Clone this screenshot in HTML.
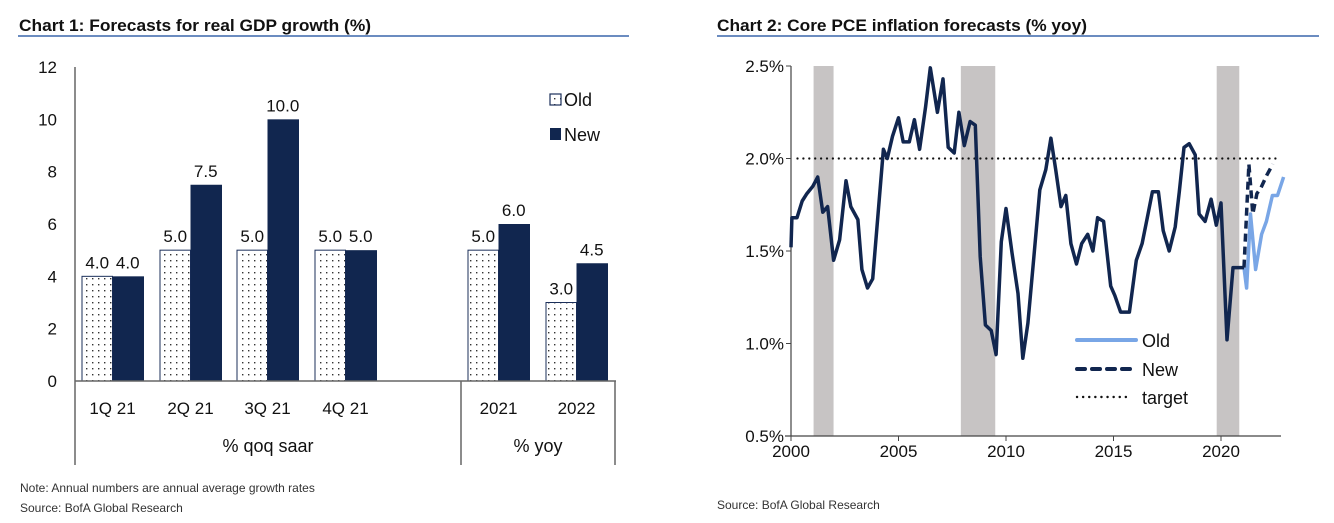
<!DOCTYPE html>
<html><head><meta charset="utf-8"><style>
html,body{margin:0;padding:0;background:#fff;}
svg{display:block;font-family:"Liberation Sans Narrow","Liberation Sans",sans-serif;}
</style></head><body>
<svg id="c" width="1334" height="523" viewBox="0 0 1334 523">
<defs>
<pattern id="dots" width="6" height="6" patternUnits="userSpaceOnUse">
<rect width="6" height="6" fill="#fff"/><rect x="2" y="2" width="1.4" height="1.4" fill="#333"/>
</pattern>
</defs>
<g id="c1">
<text x="19" y="31" font-size="17" font-weight="bold" fill="#111" textLength="352" lengthAdjust="spacingAndGlyphs">Chart 1: Forecasts for real GDP growth (%)</text>
<rect x="18" y="35" width="611" height="2" fill="#6b8cc0"/>
<text x="20" y="492" font-size="12" fill="#333">Note: Annual numbers are annual average growth rates</text>
<text x="20" y="512" font-size="12" fill="#333">Source: BofA Global Research</text>
</g>
<g id="c2">
<text x="717" y="31" font-size="17" font-weight="bold" fill="#111" textLength="370" lengthAdjust="spacingAndGlyphs">Chart 2: Core PCE inflation forecasts (% yoy)</text>
<rect x="717" y="35" width="602" height="2" fill="#6b8cc0"/>
<text x="717" y="509" font-size="12" fill="#333">Source: BofA Global Research</text>
</g>
</svg>
<script>
// ---- Chart 1 data ----
const gdpCategories = ["1Q 21","2Q 21","3Q 21","4Q 21","2021","2022"];
const gdpOld = [4.0,5.0,5.0,5.0,5.0,3.0];
const gdpNew = [4.0,7.5,10.0,5.0,6.0,4.5];
const gdpTicks = [0,2,4,6,8,10,12];
const gdpGroups = ["% qoq saar","% yoy"];
// ---- Chart 2 data ----
const pceYears = [2000.0,2000.04,2000.28,2000.52,2000.74,2001.02,2001.24,2001.48,2001.70,2001.98,2002.26,2002.56,2002.78,2003.11,2003.30,2003.56,2003.80,2004.30,2004.48,2004.72,2005.0,2005.22,2005.5,2005.74,2005.98,2006.26,2006.48,2006.81,2007.07,2007.31,2007.59,2007.81,2008.06,2008.33,2008.57,2008.80,2009.04,2009.31,2009.54,2009.78,2010.0,2010.28,2010.56,2010.78,2011.02,2011.30,2011.57,2011.85,2012.09,2012.31,2012.56,2012.78,2013.02,2013.28,2013.52,2013.80,2014.04,2014.26,2014.54,2014.87,2015.06,2015.33,2015.74,2016.06,2016.33,2016.57,2016.81,2017.09,2017.31,2017.59,2017.87,2018.06,2018.28,2018.52,2018.80,2018.98,2019.26,2019.54,2019.78,2020.0,2020.28,2020.56,2020.83,2021.07];
const pceValues = [1.52,1.68,1.68,1.77,1.81,1.85,1.90,1.71,1.74,1.45,1.56,1.88,1.74,1.67,1.40,1.30,1.35,2.05,2.00,2.12,2.22,2.09,2.09,2.21,2.05,2.28,2.49,2.25,2.43,2.06,2.03,2.25,2.07,2.20,2.18,1.47,1.10,1.07,0.94,1.55,1.73,1.49,1.27,0.92,1.11,1.47,1.83,1.94,2.11,1.94,1.74,1.80,1.54,1.43,1.54,1.59,1.50,1.68,1.66,1.31,1.26,1.17,1.17,1.45,1.54,1.68,1.82,1.82,1.61,1.50,1.63,1.82,2.06,2.08,2.02,1.70,1.66,1.78,1.64,1.76,1.02,1.41,1.41,1.41];
const oldYears = [2021.07,2021.19,2021.37,2021.61,2021.89,2022.11,2022.39,2022.63,2022.91];
const oldValues = [1.41,1.30,1.70,1.40,1.59,1.66,1.80,1.80,1.90];
const newYears = [2021.07,2021.30,2021.48,2021.67,2021.85,2022.13,2022.41];
const newValues = [1.41,1.97,1.70,1.81,1.84,1.91,1.97];
const recessionStarts = [2001.05,2007.9,2019.8];
const recessionEnds = [2001.98,2009.5,2020.85];
const pceTicks = [0.5,1.0,1.5,2.0,2.5];
const yearTicks = [2000,2005,2010,2015,2020];
const targetValue = 2.0;

const NS="http://www.w3.org/2000/svg";
function mk(parent,tag,attrs,text){const e=document.createElementNS(NS,tag);for(const k in attrs)e.setAttribute(k,attrs[k]);if(text!==undefined)e.textContent=text;parent.appendChild(e);return e;}

// ---- Chart 1 ----
const g1=document.getElementById('c1');
const y1=v=>381-v*(314/12);
const slotX=[82,160,237,315,468,546];
const bw=30.5;
mk(g1,'line',{x1:75,y1:67,x2:75,y2:465,stroke:'#666','stroke-width':1.5});
gdpTicks.forEach(t=>{
 const e=mk(g1,'text',{x:57,y:y1(t)+6,'font-size':17,'text-anchor':'end',fill:'#111'},String(t));
 
 
});
gdpCategories.forEach((c,i)=>{
 const x=slotX[i];
 const o=mk(g1,'rect',{x:x,y:y1(gdpOld[i]),width:bw,height:y1(0)-y1(gdpOld[i]),fill:'url(#dots)',stroke:'#1b2f5a','stroke-width':1});
 
 
 const n=mk(g1,'rect',{x:x+bw,y:y1(gdpNew[i]),width:bw+1,height:y1(0)-y1(gdpNew[i]),fill:'#11264f'});
 
 
 const lo=mk(g1,'text',{x:x+bw/2,y:y1(gdpOld[i])-8,'font-size':17,'text-anchor':'middle',fill:'#111'},gdpOld[i].toFixed(1));
 
 
 const ln=mk(g1,'text',{x:x+bw*1.5,y:y1(gdpNew[i])-8,'font-size':17,'text-anchor':'middle',fill:'#111'},gdpNew[i].toFixed(1));
 
 
 const cl=mk(g1,'text',{x:x+bw,y:414,'font-size':17,'text-anchor':'middle',fill:'#111'},c);
 
 
});
mk(g1,'line',{x1:75,y1:381,x2:616,y2:381,stroke:'#666','stroke-width':1.5});
mk(g1,'line',{x1:461,y1:381,x2:461,y2:465,stroke:'#666','stroke-width':1.5});
mk(g1,'line',{x1:615,y1:381,x2:615,y2:465,stroke:'#666','stroke-width':1.5});
const gl1=mk(g1,'text',{x:268,y:452,'font-size':18,'text-anchor':'middle',fill:'#111'},gdpGroups[0]);


const gl2=mk(g1,'text',{x:538,y:452,'font-size':18,'text-anchor':'middle',fill:'#111'},gdpGroups[1]);


const lg1=mk(g1,'g',{});


mk(lg1,'rect',{x:550,y:94,width:11,height:11,fill:'url(#dots)',stroke:'#1b2f5a','stroke-width':1.2});
mk(lg1,'text',{x:564,y:106,'font-size':18,fill:'#111'},'Old');
mk(lg1,'rect',{x:550,y:128,width:11,height:12,fill:'#11264f'});
mk(lg1,'text',{x:564,y:141,'font-size':18,fill:'#111'},'New');

// ---- Chart 2 ----
const g2=document.getElementById('c2');
const x2=yr=>791+(yr-2000)*21.5;
const y2=v=>436-(v-0.5)*185;
recessionStarts.forEach((s,i)=>{
 const r=mk(g2,'rect',{x:x2(s),y:66,width:x2(recessionEnds[i])-x2(s),height:370,fill:'#c7c4c4'});
 
 
});
mk(g2,'line',{x1:791,y1:66,x2:791,y2:436,stroke:'#444','stroke-width':1.2});
mk(g2,'line',{x1:785,y1:436,x2:1281,y2:436,stroke:'#444','stroke-width':1.2});
pceTicks.forEach(t=>{
 mk(g2,'line',{x1:786,y1:y2(t),x2:791,y2:y2(t),stroke:'#444'});
 const e=mk(g2,'text',{x:784,y:y2(t)+6,'font-size':17,'text-anchor':'end',fill:'#111'},t.toFixed(1)+'%');
 
 
});
yearTicks.forEach(t=>{
 mk(g2,'line',{x1:x2(t),y1:436,x2:x2(t),y2:441,stroke:'#444'});
 const e=mk(g2,'text',{x:x2(t),y:457,'font-size':17,'text-anchor':'middle',fill:'#111'},String(t));
 
 
});
const tg=mk(g2,'line',{x1:x2(2000.3),y1:y2(targetValue),x2:x2(2022.8),y2:y2(targetValue),stroke:'#111','stroke-width':2.2,'stroke-dasharray':'0.1 5.8','stroke-linecap':'round'});


const pts=(xs,vs)=>xs.map((x,i)=>x2(x).toFixed(1)+','+y2(vs[i]).toFixed(1)).join(' ');
const ol=mk(g2,'polyline',{points:pts(oldYears,oldValues),fill:'none',stroke:'#79a6e6','stroke-width':3.5,'stroke-linejoin':'round'});


const nl=mk(g2,'polyline',{points:pts(newYears,newValues),fill:'none',stroke:'#11264f','stroke-width':3.5,'stroke-dasharray':'8 5','stroke-linejoin':'round'});


const al=mk(g2,'polyline',{points:pts(pceYears,pceValues),fill:'none',stroke:'#11264f','stroke-width':3.5,'stroke-linejoin':'round'});


const lg2=mk(g2,'g',{});


mk(lg2,'line',{x1:1077,y1:340,x2:1136,y2:340,stroke:'#79a6e6','stroke-width':4,'stroke-linecap':'round'});
mk(lg2,'text',{x:1142,y:347,'font-size':18,fill:'#111'},'Old');
mk(lg2,'line',{x1:1077,y1:369,x2:1132,y2:369,stroke:'#11264f','stroke-width':4,'stroke-dasharray':'8 7','stroke-linecap':'round'});
mk(lg2,'text',{x:1142,y:376,'font-size':18,fill:'#111'},'New');
mk(lg2,'line',{x1:1077,y1:397,x2:1128,y2:397,stroke:'#111','stroke-width':2.4,'stroke-dasharray':'0.1 6','stroke-linecap':'round'});
mk(lg2,'text',{x:1142,y:404,'font-size':18,fill:'#111'},'target');
</script>
</body></html>
